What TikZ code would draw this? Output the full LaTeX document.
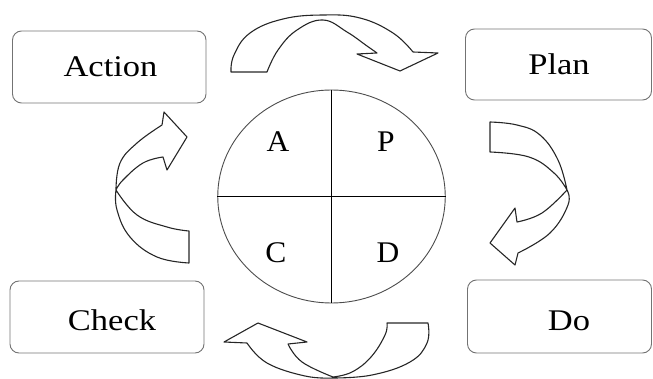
\documentclass[tikz,border=0pt]{standalone}
\usepackage{fontspec}
\usepackage{graphicx}
\setmainfont{Liberation Serif}
\usetikzlibrary{shapes.geometric}
\newcommand{\widetext}[1]{\scalebox{1.15}[1]{#1}}
\begin{document}
\begin{tikzpicture}[x=1pt,y=-1pt,
  boxstyle/.style={draw=black!55, line width=0.9pt, rounded corners=9pt, inner sep=0pt},
  lbl/.style={font=\fontsize{30}{30}\selectfont, anchor=base, inner sep=0pt},
  circstyle/.style={draw=black!70, line width=0.9pt, ellipse, inner sep=0pt},
  ribbon/.style={draw=black!85, line width=1.1pt, line join=round}]
\useasboundingbox (0,0) rectangle (653,379);

% boxes
\node[boxstyle, minimum width=193.5pt, minimum height=72pt] (actionbox) at (109.25,67) {};
\node[boxstyle, minimum width=186pt, minimum height=71pt] (planbox) at (558.5,64.5) {};
\node[boxstyle, minimum width=194pt, minimum height=72pt] (checkbox) at (107,317) {};
\node[boxstyle, minimum width=184pt, minimum height=73pt] (dobox) at (559.5,316.5) {};

\node[lbl] (actiontxt) at (110.5,77) {\widetext{Action}};
\node[lbl] (plantxt) at (559,75) {\widetext{Plan}};
\node[lbl] (checktxt) at (112,330) {\widetext{Check}};
\node[lbl] (dotxt) at (569,330) {\widetext{Do}};

% circle
\node[circstyle, minimum width=227.5pt, minimum height=213pt] (cyc) at (331.5,196.5) {};
\draw[black, line width=1.5pt] (cyc.west) -- (cyc.east);
\draw[black, line width=1pt] (cyc.north) -- (cyc.south);

\node[lbl] (qa) at (278,152) {\scalebox{1.05}[1]{A}};
\node[lbl] (qp) at (386,152) {\scalebox{1.05}[1]{P}};
\node[lbl] (qc) at (276,263) {\scalebox{1.05}[1]{C}};
\node[lbl] (qd) at (388,263) {\scalebox{1.05}[1]{D}};

% top arrow (Action -> Plan)
\draw[ribbon] (267,72) -- (231,72)
  -- plot[smooth, tension=0.7] coordinates {(231,72) (234,55) (250,33) (283,19) (323,15) (360,18) (393,33) (413,52)}
  -- (438,53) -- (400,71) -- (357,54) -- (377,53)
  -- plot[smooth, tension=0.7] coordinates {(377,53) (367,46) (347,32) (323,20) (297,30) (278,50) (267,72)}
  -- cycle;

% right arrow (Plan -> Do)
\draw[ribbon] (490,152) -- (490,122)
  -- plot[smooth, tension=0.7] coordinates {(490,122) (517,125) (540,135) (558,160) (567,190)}
  -- plot[smooth, tension=0.7] coordinates {(567,190) (568,205) (550,233) (518,253)}
  -- (515,265) -- (490,243) -- (515,208) -- (517,222)
  -- plot[smooth, tension=0.7] coordinates {(517,222) (542,213) (567,190)}
  -- plot[smooth, tension=0.7] coordinates {(567,190) (554,173) (529,157) (490,152)}
  -- cycle;

% bottom arrow (Do -> Check)
\draw[ribbon] (387,323) -- (428,323)
  -- plot[smooth, tension=0.7] coordinates {(428,323) (427,343) (410,362) (372,375) (333,378)}
  -- plot[smooth, tension=0.7] coordinates {(333,378) (305,376) (267,363) (247,343)}
  -- (224,342) -- (258,323) -- (307,342) -- (288,344)
  -- plot[smooth, tension=0.7] coordinates {(288,344) (302,362) (333,377)}
  -- plot[smooth, tension=0.7] coordinates {(333,377) (352,372) (371,357) (385,335) (387,323)}
  -- cycle;

% left arrow (Check -> Action)
\draw[ribbon] (189,231) -- (189,263)
  -- plot[smooth, tension=0.7] coordinates {(189,263) (157,257) (130,237) (117,210) (116,190)}
  -- plot[smooth, tension=0.7] coordinates {(116,190) (120,163) (137,143) (162,125)}
  -- (164,112) -- (187,137) -- (167,170) -- (163,157)
  -- plot[smooth, tension=0.7] coordinates {(163,157) (143,163) (123,180) (116,190)}
  -- plot[smooth, tension=0.7] coordinates {(116,190) (137,215) (167,227) (189,231)}
  -- cycle;
\end{tikzpicture}
\end{document}
